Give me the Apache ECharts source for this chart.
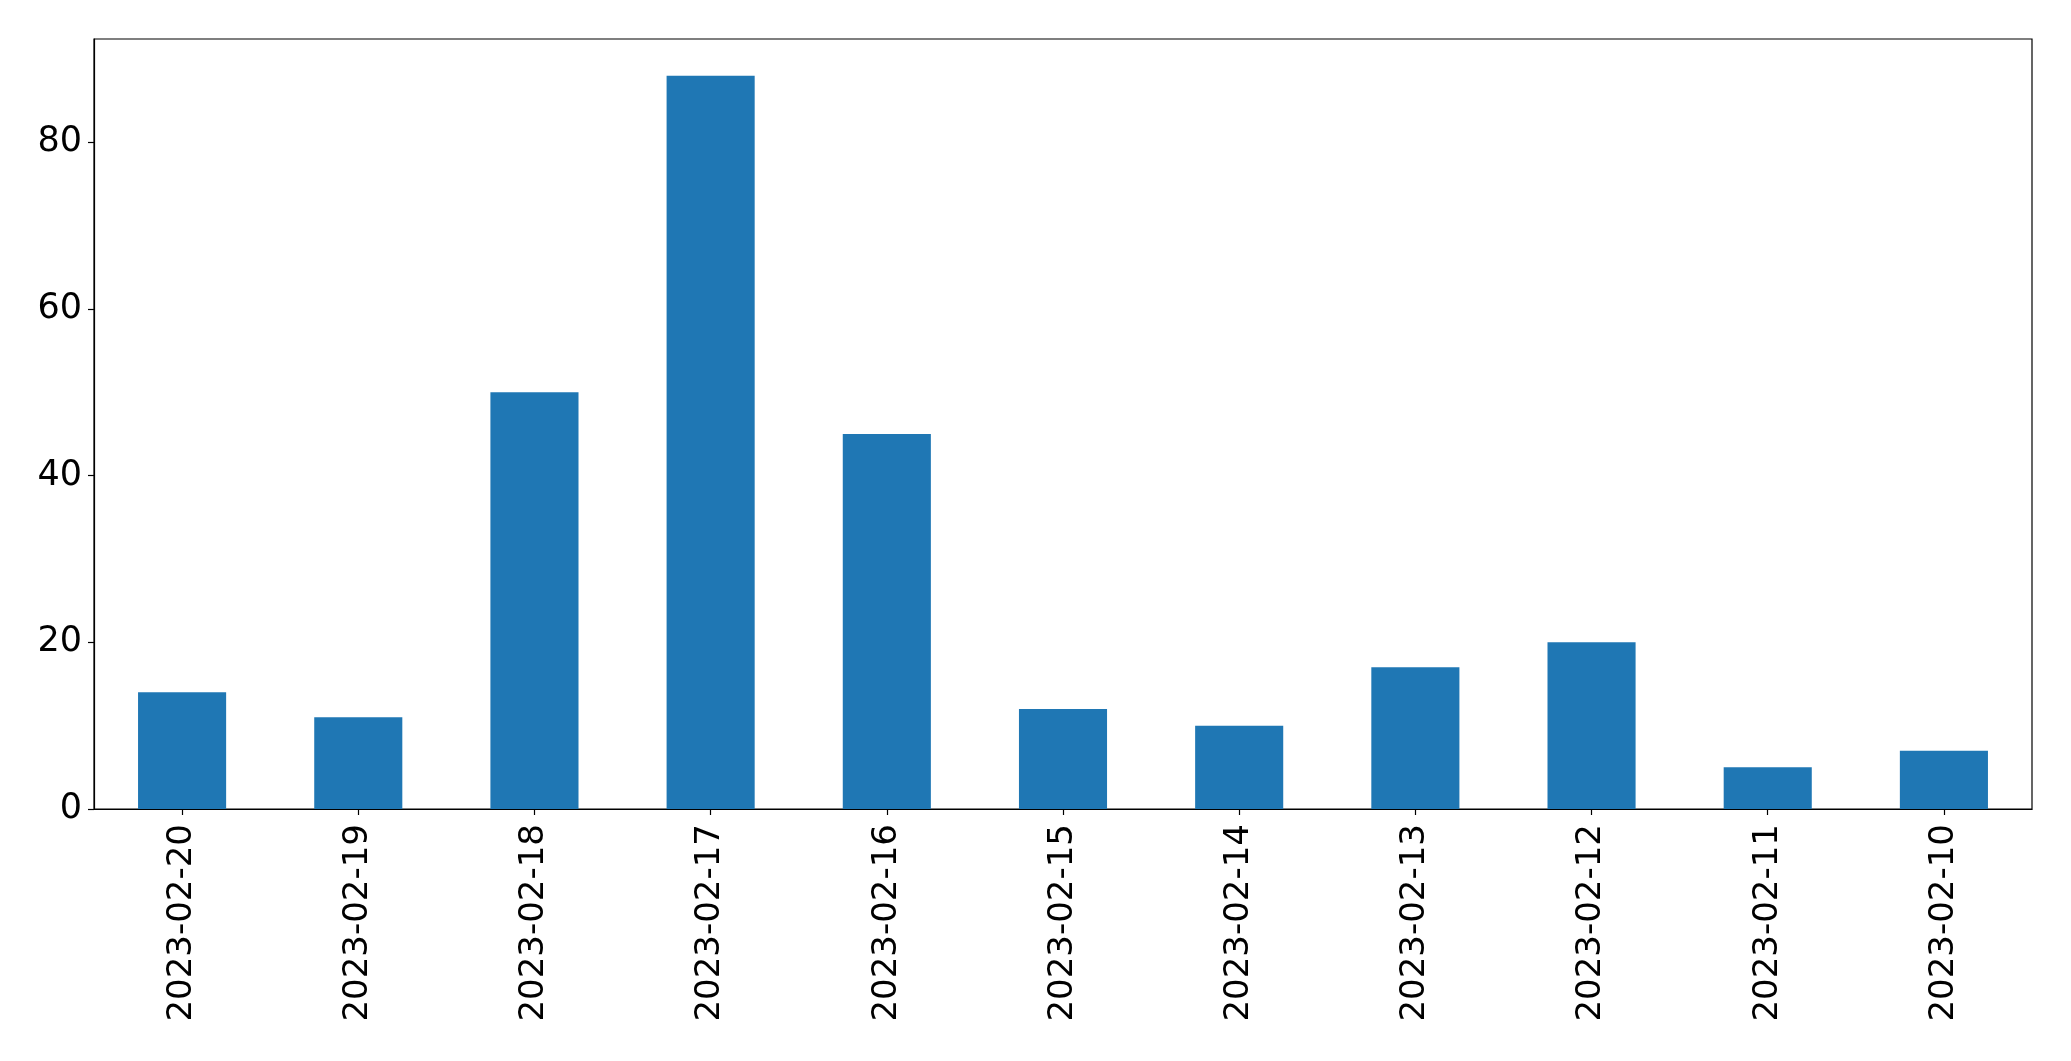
<!DOCTYPE html>
<html>
<head>
<meta charset="utf-8">
<script src="https://cdn.jsdelivr.net/npm/echarts@6/dist/echarts.min.js"></script>
<style>
html,body{margin:0;padding:0;background:#fff;}
#chart{width:2071px;height:1061px;}
</style>
</head>
<body>
<div id="chart"></div>
<script>
var categories = ["2023-02-20","2023-02-19","2023-02-18","2023-02-17","2023-02-16","2023-02-15","2023-02-14","2023-02-13","2023-02-12","2023-02-11","2023-02-10"];
var values = [14, 11, 50, 88, 45, 12, 10, 17, 20, 5, 7];
var yTicks = [0, 20, 40, 60, 80];

var chart = echarts.init(document.getElementById('chart'));
chart.setOption({
  animation: false,
  grid: {left: 94, right: 39, top: 39, bottom: 252, show: true, borderColor: '#000', borderWidth: 1.2, backgroundColor: 'transparent'},
  xAxis: {
    type: 'category',
    data: categories,
    boundaryGap: true,
    axisLine: {show: true, lineStyle: {color: '#000', width: 1.2}},
    axisTick: {show: true, alignWithLabel: true, length: 6, lineStyle: {color: '#000', width: 1.2}},
    axisLabel: {rotate: 90, margin: 15, color: '#000', fontSize: 34, fontFamily: 'DejaVu Sans', interval: 0}
  },
  yAxis: {
    type: 'value',
    min: 0,
    max: 92.4,
    interval: 20,
    splitLine: {show: false},
    axisLine: {show: true, lineStyle: {color: '#000', width: 1.2}},
    axisTick: {show: true, length: 6, customValues: yTicks, lineStyle: {color: '#000', width: 1.2}},
    axisLabel: {customValues: yTicks, margin: 12, color: '#000', fontSize: 35, fontFamily: 'DejaVu Sans'}
  },
  series: [{
    type: 'bar',
    data: values,
    barCategoryGap: '50%',
    itemStyle: {color: '#1f77b4'}
  }]
});
</script>
</body>
</html>
